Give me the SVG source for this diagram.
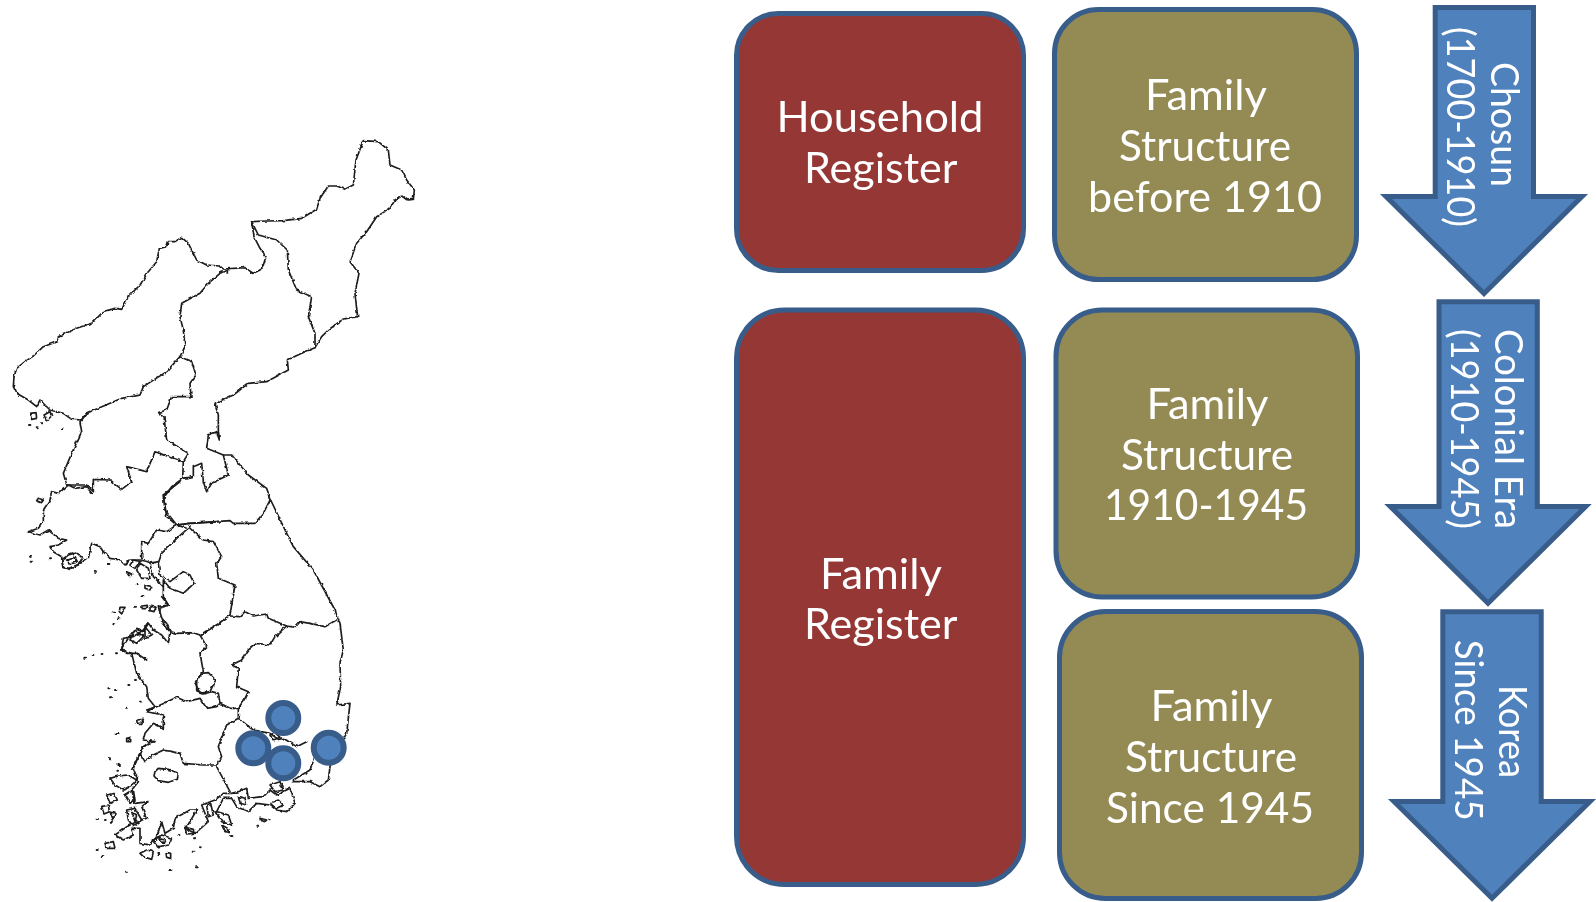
<svg xmlns="http://www.w3.org/2000/svg" width="1596" height="902" viewBox="0 0 1596 902">
<defs>
<filter id="soft" filterUnits="userSpaceOnUse" x="0" y="120" width="430" height="770"><feTurbulence type="fractalNoise" baseFrequency="0.22" numOctaves="2" seed="4" result="n"/><feDisplacementMap in="SourceGraphic" in2="n" scale="3.2" xChannelSelector="R" yChannelSelector="G"/><feGaussianBlur stdDeviation="0.32"/></filter>
</defs>
<style>
.map path{fill:none;stroke:#1c1c1c;stroke-width:5;stroke-linejoin:round;stroke-linecap:round}
.map path.dot{fill:#222;stroke-width:6}
.box{stroke:#385d8a;stroke-width:5}
.red{fill:#953735}
.olive{fill:#948a54}
.arrow{fill:#4f81bd;stroke:#385d8a;stroke-width:5;stroke-miterlimit:10}
.site{fill:#4f81bd;stroke:#385d8a;stroke-width:6}
text{font-family:Lato,"Noto Sans","Liberation Sans",sans-serif;fill:#fff;font-size:42px}
.v{font-size:39px}
</style>
<rect width="1596" height="902" fill="#fff"/>
<g id="map" class="map" filter="url(#soft)">
<g transform="translate(0,120) scale(.33333)">
<path d="M42 770L50 745 75 725 100 708 130 680 170 665 175 650 230 625 275 610 310 575 345 565 365 568 385 530 420 495 445 455 470 425 478 385 500 380 505 365 525 365 545 352 565 370 580 400 590 420 620 435 660 438 670 447 735 443 760 460 780 450 790 435 798 410 780 385 762 350 755 305 800 303 850 302 905 295 950 268 960 235 985 198 1010 198 1035 208 1060 195 1068 120 1090 62 1135 65 1165 90 1170 135 1205 150 1220 180 1243 210 1240 238 1222 240 1205 228 1185 240 1170 265 1130 290 1100 335 1070 370 1050 425 1077 460 1065 520 1073 590 1030 597 985 630 965 650 945 683 905 700 862 720 865 750 800 785 745 790 700 825 645 850 655 885 655 930 658 960 650 935 625 945 620 985 670 1005 695 1005 745 1065 800 1105 810 1140"/>
<path d="M755 305L775 345 830 360 862 390 865 450 890 510 935 530 925 590 945 640 945 683"/>
<path d="M682 462L682 450 660 460 625 490 600 520 545 550 540 590 550 630 555 680 540 710 500 755 430 800 420 825 365 835 330 850 260 880 245 900 215 898 190 880 150 870 120 840 110 860 85 840 50 820 40 800 42 770"/>
<path d="M540 710L575 725 588 765 570 790 573 830 515 830 500 870 475 878 492 890 500 960 565 1000 550 1025 465 995 440 1055 380 1040 395 1085 365 1108 330 1080 280 1078 280 1115 260 1095 200 1095 190 1060 215 1000 245 935 240 905 260 880"/>
<path d="M550 1025L548 1075 515 1100 490 1135"/>
<path d="M548 1075L580 1070 580 1040 605 1030 610 1085 620 1115 635 1090 685 1065 670 1005"/>
<path d="M90 880L108 878 110 895 95 898ZM132 885L150 875 155 888 140 902Z"/>
<path class="dot" d="M87 915h4M110 922h3M123 910h3M185 925h3"/>
</g>
<g transform="translate(20,480) scale(.33333)">
<path d="M215 40L200 20 165 25 145 15 115 40 95 35 90 60 70 90 70 125 55 145 25 155 60 165 85 150 115 175 140 180 115 195 90 200 100 215 125 230 128 262 150 268 165 258 190 245 205 235 215 190 240 200 250 215 270 235 300 240 315 255 330 240 360 240 385 245 400 250"/>
<path d="M365 235L365 185 385 190 410 150 440 155 470 135 500 145"/>
<path d="M510 140L470 175 425 220 415 250 420 285 450 305 470 290 490 275 510 285 522 310 490 340 450 325 430 300 430 350 445 375 420 385 420 410 440 430 450 455 470 460 520 458 540 465 590 435"/>
<path d="M415 245L390 250 400 290 430 320M360 250L385 265 390 295 365 295 350 270Z"/>
<path d="M430 45L440 110 470 135 510 130 600 125M430 45L480 5"/>
<path d="M55 55L70 60 65 68 50 62ZM125 240L145 225 170 218 188 235 175 255 150 265 130 262ZM140 240L165 232 172 245 150 252ZM340 240L360 245 345 265 330 255ZM375 315L395 320 390 330 375 325ZM365 378L382 376 382 386 367 386ZM390 378L408 382 402 395 390 392ZM300 382L315 382 305 402 298 395ZM320 275L335 282 330 290Z"/>
<path class="dot" d="M30 230h3M35 245h2M90 235h3M225 275h3M265 252h3M322 280h3M350 312h3M367 348h3M345 380h3M280 395h3M295 415h3M280 433h3M193 533h2M218 525h2M245 522h2M288 520h3"/>
<path d="M450 455L445 490 425 465 400 450 385 430 370 455 350 445 325 475 305 505 320 520 350 520 380 540M345 450L370 470 350 490 330 480ZM375 440L395 465 375 475Z"/>
</g>
<g transform="translate(0,490) scale(.33333)">
<path d="M812 30L860 130 880 170 940 240 1005 360 1020 400 1030 480 1020 520 1022 590 1010 645 1050 640 1040 730 1000 800 990 830 985 870 960 890 930 875 880 875"/>
<path d="M810 30L790 70 765 100 700 100 690 92 570 100 530 105 495 60 490 15"/>
<path d="M570 115L610 150 640 155 665 200 650 220 655 265 705 285 690 375 650 405 600 435 620 470 600 490 610 545 590 570 590 600"/>
<path d="M1010 390L1000 395 975 410 945 403 900 395 885 412 860 408 805 385 800 372 760 378 735 365 720 380 690 378"/>
<path d="M860 408L825 440 810 465 770 460 745 480 725 510 695 525 715 535 710 590 745 605 735 625 715 655 690 655 660 640 655 610 635 605 610 612 590 600"/>
<path d="M605 550L585 578 600 610 630 605 647 570 625 548Z"/>
<path d="M715 655L715 685 680 705 655 770 665 800 650 825 610 825 550 820 540 790 515 785 490 780 460 795 435 815 420 790"/>
<path d="M650 830L690 905M600 625L620 655 650 650 660 640M600 625L560 635 530 622 470 650 440 660"/>
<path d="M715 685L760 720 810 730 835 748 850 745 890 770 920 755M945 800L930 840 880 870"/>
<path d="M810 735L825 728 840 742 820 750Z"/>
<path d="M510 425L490 400 475 350 505 345 485 320M445 400L430 420 400 440 370 445 365 480 395 490 410 550 440 590 445 625 465 650 440 665 490 675 490 715 460 700 435 730 430 750 465 755 430 770 415 800 395 840"/>
<path d="M410 690L430 688 425 700 412 700ZM380 745L392 742 392 755 380 755Z"/>
<path class="dot" d="M350 732h3M330 805h3M357 825h3M325 595h3M345 600h4M330 622h3M378 653h3M420 635h3M385 585h3M405 570h3"/>
</g>
<g transform="translate(90,740) scale(.33333)">
<path d="M195 95L205 85 235 88 265 100 262 118 235 127 205 122 192 108Z"/>
<path d="M185 2L160 20 145 50 130 85 145 125 125 150 135 190 175 185 155 200 170 235 130 250 108 262 75 285 100 300 130 285 125 265 150 265 150 310 180 315 200 290 215 245 225 280 250 265 255 235 300 210 320 210 300 245 285 265 315 280 355 245 335 195 375 180 400 160 425 160 445 155 470 145 475 175 520 170 540 150 560 165 600 145 615 190 590 215 560 210 540 195 500 190 475 215 440 200 425 175 400 175 380 215 415 225 425 255 395 245 375 215"/>
<path d="M60 115L85 108 115 105 140 120 125 135 100 150 75 135ZM50 165L72 160 82 180 60 190ZM35 200L55 195 58 215 42 222ZM110 210L135 205 155 240 130 258 115 240ZM125 215L140 225 135 245ZM105 165L130 150 135 180 120 190ZM190 300L215 285 245 295 238 315 205 320ZM205 295L225 300 220 310ZM150 340L170 330 190 335 185 358 160 350ZM228 338L242 340 242 355 230 352ZM350 195L362 190 370 225 355 230ZM395 255L412 265 420 278 405 275ZM540 135L570 125 580 150 555 155ZM540 190L565 180 580 195 560 205ZM445 170L465 175 470 195 450 190ZM510 235L530 240 525 245 512 242ZM285 262L310 268 312 280 290 282ZM45 310L70 305 75 325 50 325ZM60 215L75 220 70 240Z"/>
<path class="dot" d="M60 58h3M85 72h2M82 92h2M20 237h4M45 240h2M62 245h4M20 330h3M38 348h2M205 342h3M108 395h4M238 390h6M308 335h5M330 322h2M318 382h5M423 288h4M502 257h3M538 238h2M312 295h3M265 285h3"/>
</g>
</g>
<g id="site-1"><circle class="site" cx="283.3" cy="718" r="15"/></g>
<g id="site-2"><circle class="site" cx="253.3" cy="748.3" r="15"/></g>
<g id="site-3"><circle class="site" cx="283.3" cy="763.3" r="15"/></g>
<g id="site-4"><circle class="site" cx="328.7" cy="747.7" r="15"/></g>
<g id="household-register">
<rect class="box red" x="736.5" y="13.5" width="287" height="257" rx="42"/>
<text x="776.500" y="131.7" textLength="207" lengthAdjust="spacingAndGlyphs">Household</text>
<text x="804" y="183" textLength="153.500" lengthAdjust="spacingAndGlyphs">Register</text>
</g>
<g id="family-register">
<rect class="box red" x="736.5" y="310" width="287" height="574.5" rx="48"/>
<text x="820" y="588.6" textLength="122" lengthAdjust="spacingAndGlyphs">Family</text>
<text x="804" y="638.6" textLength="153.500" lengthAdjust="spacingAndGlyphs">Register</text>
</g>
<g id="structure-before-1910">
<rect class="box olive" x="1054.5" y="9.5" width="302" height="270" rx="44"/>
<text x="1145" y="110" textLength="122" lengthAdjust="spacingAndGlyphs">Family</text>
<text x="1119" y="160.7" textLength="172" lengthAdjust="spacingAndGlyphs">Structure</text>
<text x="1088" y="211.7" textLength="234" lengthAdjust="spacingAndGlyphs">before 1910</text>
</g>
<g id="structure-1910-1945">
<rect class="box olive" x="1056" y="310" width="301.500" height="287" rx="46"/>
<text x="1146.500" y="418.800" textLength="122" lengthAdjust="spacingAndGlyphs">Family</text>
<text x="1121" y="470.300" textLength="172" lengthAdjust="spacingAndGlyphs">Structure</text>
<text x="1104" y="520" textLength="204" lengthAdjust="spacingAndGlyphs">1910-1945</text>
</g>
<g id="structure-since-1945">
<rect class="box olive" x="1059.500" y="611.500" width="302" height="287" rx="46"/>
<text x="1150.500" y="720.500" textLength="122" lengthAdjust="spacingAndGlyphs">Family</text>
<text x="1125" y="772" textLength="172" lengthAdjust="spacingAndGlyphs">Structure</text>
<text x="1106" y="822.800" textLength="208" lengthAdjust="spacingAndGlyphs">Since 1945</text>
</g>
<g id="arrow-chosun">
<path class="arrow" d="M1435.200 7.500H1533.500V196.500H1582L1484 293.500 1386 196.500H1435.200Z"/>
<text class="v" transform="translate(1491,62) rotate(90)" textLength="125" lengthAdjust="spacingAndGlyphs">Chosun</text>
<text class="v" transform="translate(1446.700,27) rotate(90)" textLength="200" lengthAdjust="spacingAndGlyphs">(1700-1910)</text>
</g>
<g id="arrow-colonial">
<path class="arrow" d="M1439 301.800H1537.300V506.500H1585.700L1488 603.200 1390.300 506.500H1439Z"/>
<text class="v" transform="translate(1495,329) rotate(90)" textLength="200" lengthAdjust="spacingAndGlyphs">Colonial Era</text>
<text class="v" transform="translate(1450.700,329) rotate(90)" textLength="200" lengthAdjust="spacingAndGlyphs">(1910-1945)</text>
</g>
<g id="arrow-korea">
<path class="arrow" d="M1442.800 611.800H1541.200V801.500H1590L1492 898.200 1394 801.500H1442.800Z"/>
<text class="v" transform="translate(1499.300,685) rotate(90)" textLength="93" lengthAdjust="spacingAndGlyphs">Korea</text>
<text class="v" transform="translate(1455,639.700) rotate(90)" textLength="181" lengthAdjust="spacingAndGlyphs">Since 1945</text>
</g>
</svg>
